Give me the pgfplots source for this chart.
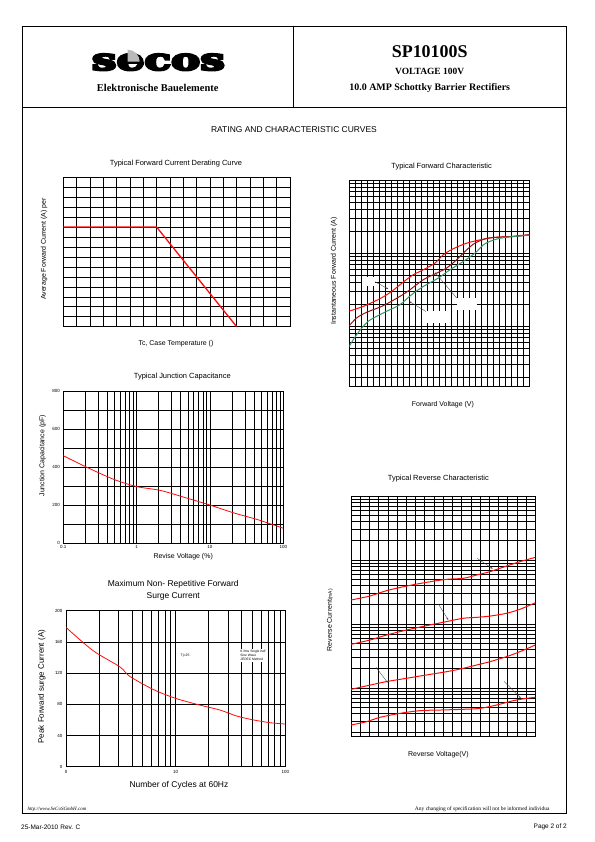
\documentclass[border=0pt]{standalone}
\usepackage{fontspec}
\setmainfont{Liberation Serif}
\setsansfont{Liberation Sans}
\newfontfamily\logofont{DejaVu Serif}[BoldFeatures={FakeBold=7}]
\usepackage{graphicx}
\usepackage{pgfplots}
\pgfplotsset{compat=1.18}
\usetikzlibrary{arrows.meta}
\definecolor{fcred}{RGB}{255,10,10}
\definecolor{fcmaroon}{RGB}{150,20,20}
\definecolor{fcgreen}{RGB}{50,150,100}
\tikzset{arr/.style={-{Stealth[length=2.4pt,width=1.8pt]}, line width=0.35pt, black!75}}
\pgfplotsset{
  sheet/.style={
    scale only axis, anchor=south west,
    axis line style={black, line width=0.7pt},
    grid style={black, line width=0.6pt},
    minor grid style={black, line width=0.6pt},
    major tick length=0pt, minor tick length=0pt,
    tick style={draw=none},
    font=\sffamily,
    tick label style={font=\sffamily\fontsize{4.5}{5}\selectfont},
    /pgf/number format/assume math mode=true,
    title style={font=\sffamily\fontsize{7.5}{9}\selectfont, anchor=center, yshift=-7.5bp},
    xlabel style={font=\sffamily\fontsize{7}{8}\selectfont, anchor=center},
    ylabel style={font=\sffamily\fontsize{7}{8}\selectfont, anchor=center},
  },
}
\begin{document}
\begin{tikzpicture}[x=1bp,y=1bp]
\path[use as bounding box] (0,0) rectangle (595,842);
% frame
\draw[line width=0.6pt] (22.3,815.3) -- (566,815.3) -- (566,29) -- (22.3,29) -- cycle;
\draw[line width=0.6pt] (22.3,734.3) -- (566,734.3);
\draw[line width=0.6pt] (293.3,815.3) -- (293.3,734.3);
% header
\node at (158.4,779.8) {\resizebox{133bp}{16bp}{\logofont\bfseries secos}};
\fill[gray!55] (127.7,780.3) -- ++(0,12) arc (90:0:12) -- cycle;
\node[font=\bfseries\fontsize{10.5}{12}\selectfont] at (157.7,753.7) {Elektronische Bauelemente};
\node[font=\bfseries\fontsize{18}{20}\selectfont] at (429.7,790.5) {SP10100S};
\node[font=\bfseries\fontsize{9.5}{11}\selectfont] at (429.7,770.5) {VOLTAGE 100V};
\node[font=\bfseries\fontsize{10}{12}\selectfont] at (429.7,753.7) {10.0 AMP Schottky Barrier Rectifiers};
\node[font=\sffamily\fontsize{8.5}{10}\selectfont] at (294,712) {RATING AND CHARACTERISTIC CURVES};
% footer
\node[anchor=west, font=\itshape\fontsize{5}{6}\selectfont] at (24,33) {http://www.SeCoSGmbH.com};
\node[anchor=east, font=\fontsize{5.5}{6}\selectfont] at (553,33) {Any changing of specification will not be informed individua};
\node[anchor=west, font=\sffamily\fontsize{6.5}{8}\selectfont, inner sep=0pt] at (21,15) {25-Mar-2010\,\,Rev. C};
\node[anchor=east, font=\sffamily\fontsize{6.5}{8}\selectfont, inner sep=0pt] at (567,15) {Page 2 of 2};

% ---------- Derating curve ----------
\begin{axis}[sheet, at={(63.3bp,515.3bp)}, width=226.7bp, height=149.4bp,
  xmin=0, xmax=17, ymin=0, ymax=15, xtick distance=1, ytick distance=1,
  grid=major, xticklabels={}, yticklabels={},
  title={Typical Forward Current Derating Curve},
  title style={at={(axis description cs:0.497,1.102)}},
  xlabel={Tc, Case Temperature ()},
  xlabel style={at={(axis description cs:0.497,-0.116)}},
  ylabel={Average Forward Current (A) per},
  ylabel style={at={(axis description cs:-0.085,0.52)}},
]
\addplot[fcred, line width=1.3pt] coordinates {(0,10) (7,10) (13,0)};
\end{axis}

% ---------- Forward characteristic ----------
\begin{axis}[sheet, at={(349.3bp,456bp)}, width=180bp, height=205.7bp,
  xmin=0, xmax=1.5, ymode=log, ymin=0.15, ymax=100,
  xtick distance=0.05, ytick={1,10,100},
  minor ytick={0.2,0.3,0.4,0.5,0.6,0.7,0.8,0.9,2,3,4,5,6,7,8,9,20,30,40,50,60,70,80,90},
  grid=both, xticklabels={}, yticklabels={},
  title={Typical Forward Characteristic},
  title style={at={(axis description cs:0.513,1.074)}},
  xlabel={Forward Voltage (V)},
  xlabel style={at={(axis description cs:0.52,-0.092)}},
  ylabel={Instantaneous Forward Current (A)},
  ylabel style={at={(axis description cs:-0.085,0.559)}},
]
\fill[white] (axis cs:0.103,3.57) rectangle (axis cs:0.214,4.63);
\fill[white] (axis cs:0.895,1.67) rectangle (axis cs:1.062,2.42);
\fill[white] (axis cs:0.603,1.10) rectangle (axis cs:0.839,1.62);
\addplot[fcred, line width=1pt, smooth] coordinates {(0,1.60) (0.117,1.86) (0.256,2.37) (0.353,2.98) (0.45,4.01) (0.533,5.05) (0.617,5.91) (0.714,7.30) (0.783,9.49) (0.867,11.5) (0.978,13.7) (1.089,15.2) (1.2,16.4) (1.339,16.9) (1.5,18.0)};
\addplot[fcmaroon, line width=1pt, smooth] coordinates {(0,1.01) (0.061,1.29) (0.144,1.54) (0.283,1.90) (0.422,2.55) (0.506,3.15) (0.617,4.32) (0.728,5.32) (0.811,6.24) (0.894,8.11) (0.978,11.1) (1.047,13.7) (1.144,15.9) (1.256,16.6) (1.367,16.9) (1.5,17.7)};
\addplot[fcgreen, line width=1pt, smooth] coordinates {(0,0.526) (0.061,0.760) (0.158,1.16) (0.311,1.59) (0.422,1.96) (0.519,2.69) (0.617,3.49) (0.742,4.55) (0.839,5.91) (0.95,7.69) (1.047,10) (1.117,13.0) (1.172,14.5) (1.256,16.0) (1.367,16.9) (1.5,17.7)};
\draw[arr] (axis cs:0.214,4.05) -- (axis cs:0.325,3.21);
\draw[arr] (axis cs:0.895,2.42) -- (axis cs:0.714,5.42);
\draw[arr] (axis cs:0.639,1.58) -- (axis cs:0.5,2.17);
\end{axis}

% ---------- Junction capacitance ----------
\begin{axis}[sheet, at={(63.3bp,298.7bp)}, width=220bp, height=152.3bp,
  xmode=log, xmin=0.1, xmax=100, ymin=0, ymax=800,
  xtick={0.1,1,10,100}, xticklabels={0.1,1,10,100},
  minor xtick={0.2,0.3,0.4,0.5,0.6,0.7,0.8,0.9,2,3,4,5,6,7,8,9,20,30,40,50,60,70,80,90},
  ytick={0,100,...,800}, yticklabels={0,,200,,400,,600,,800},
  grid=both,
  title={Typical Junction Capacitance},
  title style={at={(axis description cs:0.541,1.105)}},
  xlabel={Revise Voltage (\%)},
  xlabel style={at={(axis description cs:0.545,-0.088)}},
  ylabel={Junction Capacitance (pF)},
  ylabel style={at={(axis description cs:-0.094,0.575)}},
  xticklabel style={yshift=1pt},
]
\addplot[fcred, line width=0.8pt, smooth] coordinates {(0.1,460) (0.21,399) (0.487,336) (1,298) (2.15,277) (4.97,236) (10,201) (21.8,158) (45.8,123) (100,79)};
\end{axis}

% ---------- Surge current ----------
\begin{axis}[sheet, at={(66bp,75.3bp)}, width=219.3bp, height=156bp,
  xmode=log, xmin=1, xmax=100, ymin=0, ymax=200,
  xtick={1,10,100}, xticklabels={0,10,100},
  minor xtick={2,3,4,5,6,7,8,9,20,30,40,50,60,70,80,90},
  ytick={0,40,...,200},
  grid=both,
  title={Maximum Non- Repetitive Forward\\Surge Current},
  title style={at={(axis description cs:0.489,1.139)}, align=center, font=\sffamily\fontsize{8.5}{12}\selectfont},
  xlabel={Number of Cycles at 60Hz},
  xlabel style={at={(axis description cs:0.515,-0.122)}, font=\sffamily\fontsize{8.5}{10}\selectfont},
  ylabel={Peak Forward surge Current (A)},
  ylabel style={at={(axis description cs:-0.11,0.513)}, font=\sffamily\fontsize{8}{10}\selectfont},
]
\addplot[fcred, line width=0.8pt, smooth] coordinates {(1,178.6) (1.77,148.7) (3.1,128) (3.8,116) (6.25,99) (10,87.6) (16.6,79) (25.4,72.6) (36,65) (51,60) (72.6,56.4) (100,54.7)};
\node[font=\sffamily\fontsize{3.5}{4}\selectfont, fill=white, inner sep=0.5pt] at (axis cs:12.2,141.9) {Tj=25};
\node[anchor=west, align=left, font=\sffamily\fontsize{3.3}{4.2}\selectfont, fill=white, inner sep=1pt] at (axis cs:38,142.4) {8.3ms Single half\\Sine Wave\\JEDEC Method};
\end{axis}

% ---------- Reverse characteristic ----------
\begin{axis}[sheet, at={(351bp,106bp)}, width=184.3bp, height=240bp,
  xmin=0, xmax=100, ymode=log, ymin=0.0178, ymax=100,
  xtick distance=5, ytick={0.1,1,10,100},
  minor ytick={0.02,0.03,0.04,0.05,0.06,0.07,0.08,0.09,0.2,0.3,0.4,0.5,0.6,0.7,0.8,0.9,2,3,4,5,6,7,8,9,20,30,40,50,60,70,80,90},
  grid=both, xticklabels={}, yticklabels={},
  title={Typical Reverse Characteristic},
  title style={at={(axis description cs:0.474,1.078)}},
  xlabel={Reverse Voltage(V)},
  xlabel style={at={(axis description cs:0.474,-0.079)}},
  ylabel={Reverse Current{\fontsize{5}{6}\selectfont(mA)}},
  ylabel style={at={(axis description cs:-0.114,0.483)}},
]
\addplot[fcred, line width=1pt, smooth] coordinates {(0,2.37) (10.3,2.74) (19.3,3.32) (30.2,3.92) (41.0,4.48) (51.9,4.99) (60.9,5.17) (68.2,5.83) (75.4,6.58) (84.4,8.05) (91.7,9.42) (100,11.0)};
\addplot[fcred, line width=1pt, smooth] coordinates {(0,0.481) (10.3,0.562) (19.3,0.673) (30.2,0.806) (41.0,0.942) (51.9,1.09) (60.9,1.23) (68.2,1.27) (75.4,1.33) (84.4,1.47) (91.7,1.70) (100,2.15)};
\addplot[fcred, line width=1pt, smooth] coordinates {(0,0.0953) (10.3,0.111) (19.3,0.126) (30.2,0.142) (41.0,0.160) (51.9,0.180) (60.9,0.203) (68.2,0.229) (75.4,0.258) (84.4,0.309) (91.7,0.370) (100,0.470)};
\addplot[fcred, line width=1pt, smooth] coordinates {(0,0.0264) (8.5,0.0298) (15.7,0.0348) (26.6,0.0402) (37.4,0.0443) (48.3,0.0453) (60.9,0.0465) (70.0,0.0481) (79.0,0.0542) (88.1,0.0634) (95.3,0.0690) (100,0.0715)};
\draw[arr] (axis cs:68.5,10.6) -- (axis cs:76.9,7.31);
\draw[arr] (axis cs:47.4,2.05) -- (axis cs:52.8,1.155);
\draw[arr] (axis cs:13.6,0.210) -- (axis cs:19.9,0.121);
\draw[arr] (axis cs:83.0,0.127) -- (axis cs:92.1,0.0698);
\end{axis}
\end{tikzpicture}
\end{document}
